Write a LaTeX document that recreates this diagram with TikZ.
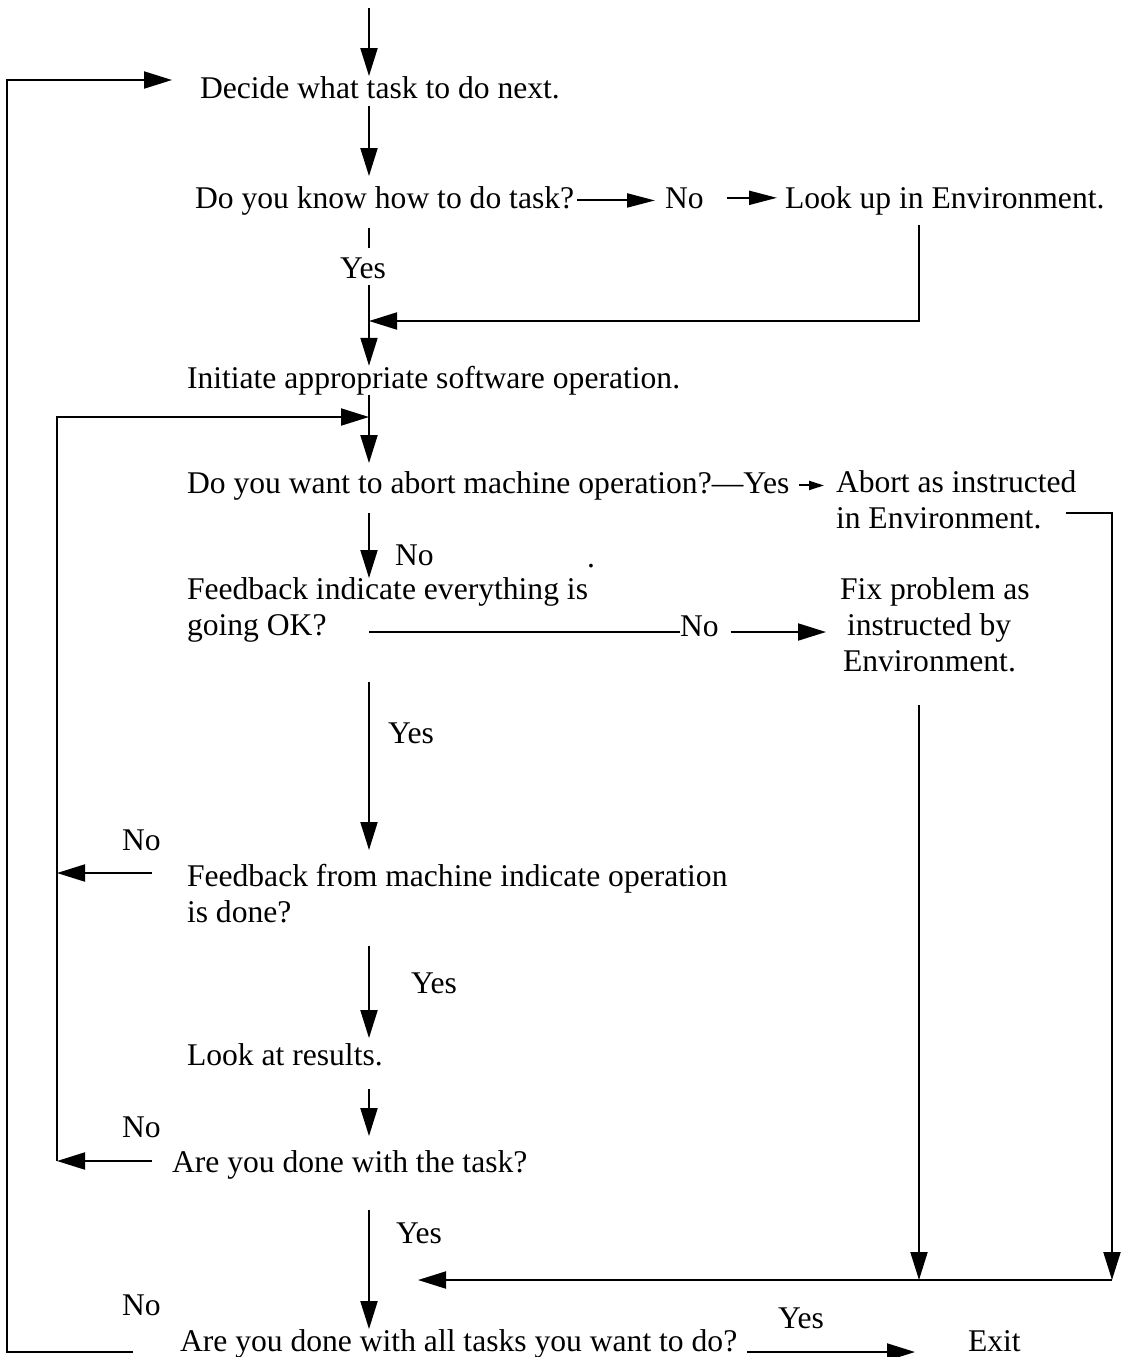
\documentclass[tikz,border=0pt]{standalone}
\usepackage{fontspec}
\setmainfont{Liberation Serif}
\usetikzlibrary{arrows.meta,calc,positioning}

\tikzset{
  txt/.style={inner sep=0pt, outer sep=0pt, anchor=base west},
  multi/.style={inner sep=0pt, outer sep=0pt, anchor=north west, align=left},
  arr/.style={-{Triangle[length=14pt,width=8.5pt]}},
  smallarr/.style={-{Triangle[length=14pt,width=7pt]}},
  tinyarr/.style={-{Triangle[length=7.5pt,width=4.5pt]}}
}

\begin{document}
\begin{tikzpicture}[x=0.5pt, y=-0.5pt, line width=1pt, font=\fontsize{15.8}{18}\selectfont]
  \useasboundingbox (0,0) rectangle (1124,1357);

  % lanes and joins
  \coordinate (spine) at (369,0);
  \coordinate (rone) at (919,0);
  \coordinate (lloop) at (7,700);
  \coordinate (mloop) at (57,1161);
  \coordinate (top) at (369,8);
  \coordinate (join1) at (369,321);
  \coordinate (join2) at (369,417);
  \coordinate (join3) at (418,1280);
  \coordinate (rtwo) at (1112,1280);
  \coordinate (aout) at (1066,513);

  % texts
  \node[txt] (decide) at (200,98) {Decide what task to do next.};
  \node[txt] (know) at (195,208) {Do you know how to do task?};
  \node[txt] (no1) at (665,208) {No};
  \node[txt] (lookup) at (785,208) {Look up in Environment.};
  \node[txt] (yes1) at (340,278) {Yes};
  \node[txt] (initiate) at (187,388) {Initiate appropriate software operation.};
  \node[txt] (abortq) at (187,493) {Do you want to abort machine operation?---Yes};
  \node[multi] (abort) at (836,471) {Abort as instructed\\in Environment.};
  \node[txt] (no2) at (395,565) {No};
  \node[txt] (dot) at (587,567) {.};
  \node[multi] (okq) at (187,578) {Feedback indicate everything is\\going OK?};
  \node[txt] (no3) at (680,636) {No};
  \node[multi] (fix) at (840,578) {Fix problem as\\\hspace{3.5pt}instructed by\\\hspace{1.5pt}Environment.};
  \node[txt] (yes2) at (388,743) {Yes};
  \node[txt] (no4) at (122,850) {No};
  \node[multi] (doneq) at (187,864) {Feedback from machine indicate operation\\is done?};
  \node[txt] (yes3) at (411,993) {Yes};
  \node[txt] (results) at (187,1065) {Look at results.};
  \node[txt] (no5) at (122,1137) {No};
  \node[txt] (taskq) at (172,1172) {Are you done with the task?};
  \node[txt] (yes4) at (396,1243) {Yes};
  \node[txt] (no6) at (122,1315) {No};
  \node[txt] (allq) at (180,1351) {Are you done with all tasks you want to do?};
  \node[txt] (yes5) at (778,1328) {Yes};
  \node[txt] (exitn) at (968,1351) {Exit};

  % entry
  \draw[arr] (top) -- (decide.north -| spine);
  \draw[arr, shorten <=4pt, shorten >=5pt] (decide.south -| spine) -- (know.north -| spine);

  % know how
  \draw[smallarr, shorten <=1.5pt, shorten >=5pt] (know.east) -- (know.east -| no1.west);
  \draw[smallarr, shorten <=11.5pt, shorten >=4pt] (no1.east) -- (no1.east -| lookup.west);
  \draw[shorten <=6.5pt, shorten >=4.5pt] (know.south -| spine) -- (yes1.north -| spine);
  \draw[arr, shorten <=3.5pt] (yes1.south -| spine) -- (initiate.north -| spine);
  \draw[arr, shorten <=5pt] (lookup.south -| rone) |- (join1);

  % initiate
  \draw[arr, shorten >=4pt] (initiate.south -| spine) -- (abortq.north -| spine);
  \draw[arr] (mloop) |- (join2);

  % abort
  \draw[tinyarr, shorten <=5pt, shorten >=6pt] (abortq.east) -- (abortq.east -| abort.west);
  \draw[arr] (aout) -| (rtwo);
  \draw[arr] (rtwo) -- (join3);

  % feedback ok
  \draw[arr, shorten <=6.5pt] (abortq.south -| spine) -- (okq.north -| spine);
  \path ([yshift=2pt]no3.base west) coordinate (okline);
  \draw (okline -| spine) -- (okline);
  \draw[arr, shorten <=6pt, shorten >=7pt] ([yshift=2pt]no3.base east) -- (okline -| fix.west);
  \draw[arr, shorten <=16.5pt] (fix.south -| rone) -- (rone |- join3);

  % operation done
  \draw[arr, shorten <=19.5pt, shorten >=7pt] (okq.south -| spine) -- (doneq.north -| spine);
  \path ($(doneq.north west)+(-35,9)$) coordinate (dqno);
  \draw[arr] (dqno) -- (dqno -| mloop);
  \draw[arr, shorten <=11.5pt, shorten >=2.5pt] (doneq.south -| spine) -- (results.north -| spine);

  % task done
  \draw[arr, shorten <=12pt, shorten >=7pt] (results.south -| spine) -- (taskq.north -| spine);
  \path ($(taskq.base west)+(-20,-11)$) coordinate (tqno);
  \draw[arr] (tqno) -- (tqno -| mloop);
  \draw[arr, shorten <=15.5pt] (taskq.south -| spine) -- (allq.north -| spine);

  % all tasks
  \draw[arr] ($(allq.base west)+(-47,1)$) -| (lloop) |- ($(decide.base west)+(-28,-18)$);
  \draw[arr] ($(allq.base east)+(10,1)$) -- ($(exitn.base west)+(-53,1)$);
\end{tikzpicture}
\end{document}
